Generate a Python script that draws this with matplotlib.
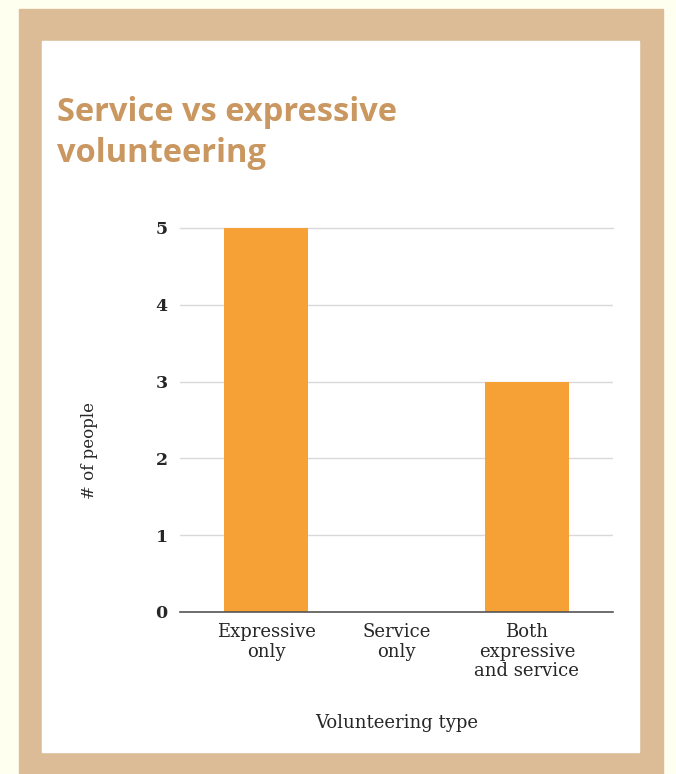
import matplotlib.pyplot as plt
from matplotlib.patches import Rectangle

categories = ['Expressive\nonly', 'Service\nonly', 'Both\nexpressive\nand service']
people = [5, 0, 3]
y_ticks = [0, 1, 2, 3, 4, 5]

title = 'Service vs expressive\nvolunteering'
x_label = 'Volunteering type'
y_label = '# of people'

bg_color = '#FEFFEF'
frame_color = '#DCBC96'
title_color = '#C9975F'
bar_color = '#F6A136'
text_color = '#262626'

fig = plt.figure(figsize=(6.76, 7.74), dpi=100, facecolor=bg_color)

# frame + white card
fig.patches.append(Rectangle((19 / 676, 0), (663 - 19) / 676, 1 - 9 / 774,
                             transform=fig.transFigure, color=frame_color, zorder=-3))
fig.patches.append(Rectangle((42 / 676, 1 - 752 / 774), (639 - 42) / 676, (752 - 41) / 774,
                             transform=fig.transFigure, color='white', zorder=-2))

fig.text(57 / 676, 1 - 96 / 774, title, color=title_color, fontsize=23.5,
         fontweight='bold', family='Open Sans', va='top', ha='left', linespacing=1.3)

ax = fig.add_axes([180 / 676, 1 - 612 / 774, 433 / 676, (612 - 228) / 774])
ax.set_facecolor('none')
x = range(len(categories))
ax.bar(x, people, width=0.64, color=bar_color, zorder=2)
ax.set_xlim(-0.66, 2.66)
ax.set_ylim(0, 5)
ax.set_yticks(y_ticks)
ax.grid(axis='y', color='#d9d9d9', linewidth=1, zorder=0)
ax.set_axisbelow(True)
for s in ['top', 'right', 'left']:
    ax.spines[s].set_visible(False)
ax.spines['bottom'].set_color('#555555')
ax.spines['bottom'].set_linewidth(1.2)
ax.spines['bottom'].set_zorder(3)
ax.tick_params(length=0)
ax.tick_params(axis='y', pad=9, labelsize=12.5, labelcolor=text_color)
ax.tick_params(axis='x', pad=8, labelsize=13, labelcolor=text_color)
ax.set_xticks(list(x))
ax.set_xticklabels(categories, family='DejaVu Serif', linespacing=1.1)
for lab in ax.get_yticklabels():
    lab.set_family('DejaVu Serif')
    lab.set_fontweight('bold')
ax.get_yaxis().get_major_ticks()[-1].gridline.set_clip_on(False)

ax.set_xlabel(x_label, family='DejaVu Serif', fontsize=13, color=text_color)
ax.xaxis.set_label_coords(0.5, -0.266)
ax.set_ylabel(y_label, family='DejaVu Serif', fontsize=12, color=text_color)
ax.yaxis.set_label_coords(-0.189, 0.42)

fig.savefig('out.png', dpi=100, facecolor=bg_color)
